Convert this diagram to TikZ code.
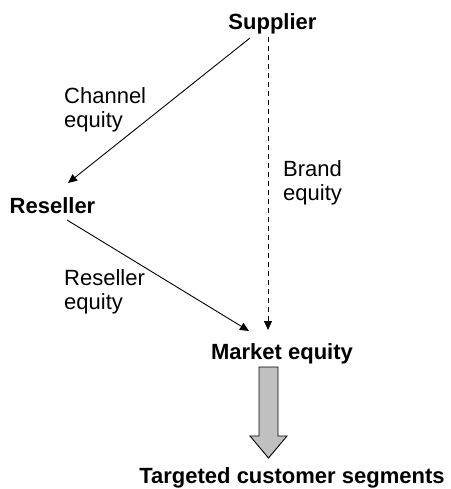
\documentclass[tikz,border=0pt]{standalone}
\usepackage{fontspec}
\setmainfont{Liberation Sans}
\usetikzlibrary{arrows.meta,calc}
\definecolor{blockgray}{RGB}{192,192,192}
\begin{document}
\begin{tikzpicture}[x=1pt,y=-1pt,
  entity/.style={font=\fontsize{22}{24}\selectfont\bfseries, inner sep=0pt, anchor=base},
  lbl/.style={font=\fontsize{22}{24.5}\selectfont, align=left, inner sep=0pt, anchor=north west},
  link/.style={line width=0.9pt, -{Triangle[length=9pt,width=8pt]}},
  brandlink/.style={link, dash pattern=on 5pt off 4pt},
  blockarrow/.style={draw=black, line width=0.9pt, fill=blockgray, line join=miter},
]
\useasboundingbox (0,0) rectangle (450,489);

% parties and outcomes
\node[entity] (sup) at (272.5,30) {Supplier};
\node[entity] (res) at (52.5,213) {Reseller};
\node[entity] (mkt) at (282,359) {Market equity};
\node[entity] (seg) at (292,483) {Targeted customer segments};

% equity labels
\node[lbl] (chl) at (64,87) {Channel\\equity};
\node[lbl] (brl) at (283,160) {Brand\\equity};
\node[lbl] (rel) at (64,269) {Reseller\\equity};

% flows of equity
\draw[link] ($(sup.base)+(-22.5,8)$) -- ($(res.base)+(15.5,-30)$);
\draw[link] ($(res.base)+(14.5,7)$) -- ($(mkt.base)+(-33,-28)$);
\draw[brandlink] ($(sup.base)+(-4.5,7)$) -- ($(mkt.base)+(-14,-29)$);

% market equity reaching the targeted segments
\coordinate (bt) at ($(mkt.base)+(-13.5,8)$);
\coordinate (tip) at ($(seg.base)+(-23.5,-25)$);
\draw[blockarrow] ($(bt)+(-9.5,0)$) -- ($(bt)+(9.5,0)$) -- ($(bt)+(9.5,69)$)
  -- ($(bt)+(18.5,69)$) -- (tip) -- ($(bt)+(-18.5,69)$)
  -- ($(bt)+(-9.5,69)$) -- cycle;
\end{tikzpicture}
\end{document}
